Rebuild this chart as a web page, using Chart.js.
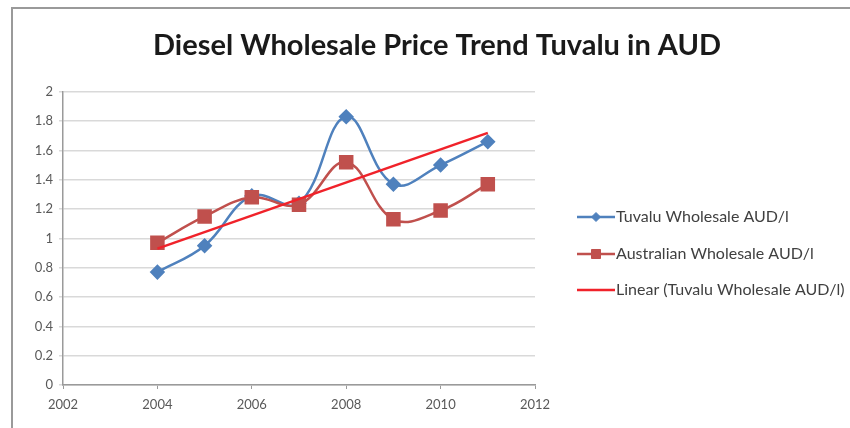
<!DOCTYPE html>
<html>
<head>
<meta charset="utf-8">
<script src="https://cdn.jsdelivr.net/npm/chart.js@4.4.1/dist/chart.umd.min.js"></script>
<style>
  html, body { margin: 0; padding: 0; background: #fff; }
  #wrap { width: 850px; height: 428px; position: relative; }
</style>
</head>
<body>
<div id="wrap"><canvas id="chart" width="850" height="428"></canvas></div>
<script>
// values
const years = [2004, 2005, 2006, 2007, 2008, 2009, 2010, 2011];
const tuvaluWholesale = [0.77, 0.95, 1.29, 1.24, 1.83, 1.37, 1.50, 1.66];
const australianWholesale = [0.97, 1.15, 1.28, 1.23, 1.52, 1.13, 1.19, 1.37];
const trendYears = [2004, 2011];
const trendValues = [0.93, 1.72];
const seriesNames = ['Tuvalu Wholesale AUD/l', 'Australian Wholesale AUD/l', 'Linear (Tuvalu Wholesale AUD/l)'];

const BLUE = '#4f81bd';
const DKRED = '#c0504d';
const RED = '#f0222a';

const toPoints = (xs, ys) => xs.map((x, i) => ({ x: x, y: ys[i] }));

// gray frame round the chart, like the excel chart border
const framePlugin = {
    id: 'frame',
    beforeDraw(chart) {
        const ctx = chart.ctx;
        ctx.save();
        ctx.strokeStyle = '#9a9a9a';
        ctx.lineWidth = 2;
        ctx.beginPath();
        ctx.moveTo(12, 428);
        ctx.lineTo(12, 8);
        ctx.lineTo(850, 8);
        ctx.stroke();
        ctx.restore();
    }
};

// excel style legend: line with marker, then the name
const legendPlugin = {
    id: 'sideLegend',
    afterDraw(chart) {
        const ctx = chart.ctx;
        const x0 = 577, x1 = 615, rowY = [217, 254, 290];
        ctx.save();
        chart.data.datasets.forEach((ds, i) => {
            const y = rowY[i];
            ctx.strokeStyle = ds.borderColor;
            ctx.lineWidth = ds.borderWidth;
            ctx.beginPath();
            ctx.moveTo(x0, y);
            ctx.lineTo(x1, y);
            ctx.stroke();
            if (ds.pointRadius > 0) {
                ctx.fillStyle = ds.backgroundColor;
                ctx.strokeStyle = ds.borderColor;
                ctx.lineWidth = 1;
                Chart.helpers.drawPoint(ctx, {
                    pointStyle: ds.pointStyle,
                    radius: ds.pointRadius * 0.75,
                    borderWidth: 1
                }, (x0 + x1) / 2, y);
            }
            ctx.fillStyle = '#404040';
            ctx.font = '16px Lato';
            ctx.textBaseline = 'middle';
            ctx.fillText(ds.label, x1 + 1, y);
        });
        ctx.restore();
    }
};

document.addEventListener('DOMContentLoaded', function () {
    const el = document.getElementById('chart');
    const ch = new Chart(el, {
        type: 'line',
        data: {
            datasets: [
                {
                    label: seriesNames[0],
                    data: toPoints(years, tuvaluWholesale),
                    borderColor: BLUE,
                    backgroundColor: BLUE,
                    borderWidth: 2.5,
                    pointStyle: 'rectRot',
                    pointRadius: 6,
                    tension: 0.4,
                    order: 2
                },
                {
                    label: seriesNames[1],
                    data: toPoints(years, australianWholesale),
                    borderColor: DKRED,
                    backgroundColor: DKRED,
                    borderWidth: 2.5,
                    pointStyle: 'rect',
                    pointRadius: 8.5,
                    tension: 0.4,
                    order: 1
                },
                {
                    label: seriesNames[2],
                    data: toPoints(trendYears, trendValues),
                    borderColor: RED,
                    backgroundColor: RED,
                    borderWidth: 2.5,
                    pointRadius: 0,
                    tension: 0,
                    order: 0
                }
            ]
        },
        options: {
            responsive: false,
            animation: false,
            events: [],
            layout: { padding: { left: 24, right: 0, top: 8, bottom: 0 } },
            plugins: {
                legend: { display: false },
                tooltip: { enabled: false },
                title: {
                    display: true,
                    text: 'Diesel Wholesale Price Trend Tuvalu in AUD',
                    color: '#1a1a1a',
                    font: { family: 'Lato', size: 29, weight: 'bold' },
                    padding: { top: 20, bottom: 29 }
                }
            },
            scales: {
                x: {
                    type: 'linear',
                    min: 2002,
                    max: 2012,
                    afterFit: (s) => { s.height = 43; },
                    ticks: {
                        stepSize: 2,
                        color: '#595959',
                        font: { family: 'Lato', size: 13 },
                        padding: 8,
                        callback: (v) => String(v)
                    },
                    grid: { drawOnChartArea: false, tickLength: 4, color: '#9a9a9a' },
                    border: { color: '#9a9a9a', width: 1.5 }
                },
                y: {
                    min: 0,
                    max: 2,
                    afterFit: (s) => { s.width = 39; },
                    ticks: {
                        stepSize: 0.2,
                        color: '#595959',
                        font: { family: 'Lato', size: 13 },
                        padding: 6,
                        callback: (v) => String(+v.toFixed(1))
                    },
                    grid: { color: '#d9d9d9', lineWidth: 1.5, tickLength: 4 },
                    border: { color: '#9a9a9a', width: 1.5 }
                },
                // empty right axis that only keeps room for the legend
                side: {
                    position: 'right',
                    afterFit: (s) => { s.width = 315; },
                    ticks: { display: false },
                    grid: { display: false },
                    border: { display: false }
                }
            }
        },
        plugins: [framePlugin, legendPlugin]
    });
});
</script>
</body>
</html>
